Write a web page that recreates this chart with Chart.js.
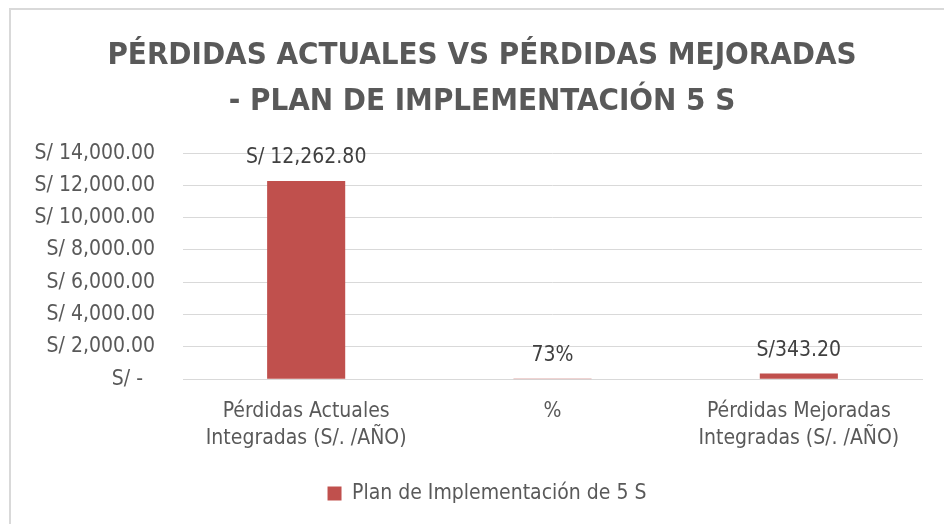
<!DOCTYPE html>
<html>
<head>
<meta charset="utf-8">
<script src="https://cdn.jsdelivr.net/npm/chart.js@4/dist/chart.umd.min.js"></script>
<style>
  html, body { margin: 0; padding: 0; background: #ffffff; }
  #wrap { position: relative; width: 944px; height: 524px; }
</style>
</head>
<body>
<div id="wrap"><canvas id="c" width="944" height="524"></canvas></div>
<script>
const categories = [
  ['Pérdidas Actuales', 'Integradas (S/. /AÑO)'],
  ['%'],
  ['Pérdidas Mejoradas', 'Integradas (S/. /AÑO)']
];
const seriesName = 'Plan de Implementación de 5 S';
const values = [12262.80, 0.73, 343.20];
const dataLabels = ['S/ 12,262.80', '73%', 'S/343.20'];
const titleLines = ['PÉRDIDAS ACTUALES VS PÉRDIDAS MEJORADAS', '- PLAN DE IMPLEMENTACIÓN 5 S'];
const yMin = 0, yMax = 14000, yStep = 2000;

const FONT = "'Liberation Sans Narrow', 'DejaVu Sans Condensed', sans-serif";

const framePlugin = {
  id: 'frame',
  beforeDraw(chart) {
    const ctx = chart.ctx;
    ctx.save();
    ctx.fillStyle = '#ffffff';
    ctx.fillRect(0, 0, chart.width, chart.height);
    ctx.strokeStyle = '#d9d9d9';
    ctx.lineWidth = 2;
    ctx.beginPath();
    ctx.moveTo(10, chart.height + 5);
    ctx.lineTo(10, 9);
    ctx.lineTo(chart.width + 5, 9);
    ctx.stroke();
    ctx.restore();
  }
};

const boxShift = {
  id: 'boxShift',
  afterLayout(chart) {
    if (chart.legend) {
      chart.legend.left += 16;
      chart.legend.right += 16;
    }
    if (chart.titleBlock) {
      chart.titleBlock.left += 11;
      chart.titleBlock.right += 11;
    }
  }
};

const labelPlugin = {
  id: 'barLabels',
  afterDatasetsDraw(chart) {
    const ctx = chart.ctx;
    const meta = chart.getDatasetMeta(0);
    ctx.save();
    ctx.font = '21px ' + FONT;
    ctx.fillStyle = '#404040';
    ctx.textAlign = 'center';
    ctx.textBaseline = 'alphabetic';
    meta.data.forEach((bar, i) => {
      ctx.fillText(dataLabels[i], bar.x, bar.y - 18);
    });
    ctx.restore();
  }
};

new Chart(document.getElementById('c'), {
  type: 'bar',
  data: {
    labels: categories,
    datasets: [{
      label: seriesName,
      data: values,
      backgroundColor: '#c0504d',
      borderWidth: 0,
      barPercentage: 0.317,
      categoryPercentage: 1.0
    }]
  },
  options: {
    responsive: false,
    animation: false,
    devicePixelRatio: 1,
    layout: { padding: { left: 20, right: 22, top: 0, bottom: 10 } },
    plugins: {
      title: {
        display: true,
        text: titleLines,
        color: '#595959',
        font: { family: FONT, size: 31, weight: 'bold', lineHeight: 1.485 },
        padding: { top: 33, bottom: 28 }
      },
      legend: {
        display: true,
        position: 'bottom',
        labels: {
          color: '#595959',
          font: { family: FONT, size: 21 },
          boxWidth: 14,
          boxHeight: 14,
          padding: 12
        }
      },
      tooltip: { enabled: false }
    },
    scales: {
      x: {
        grid: { display: false, drawTicks: false },
        border: { display: true, color: '#d9d9d9', width: 1 },
        ticks: {
          color: '#595959',
          font: { family: FONT, size: 21, lineHeight: 1.33 },
          padding: 18,
          maxRotation: 0,
          autoSkip: false
        }
      },
      y: {
        min: yMin,
        max: yMax,
        grid: { color: '#d9d9d9', lineWidth: 1, drawTicks: false },
        border: { display: false },
        ticks: {
          stepSize: yStep,
          color: '#595959',
          font: { family: FONT, size: 21 },
          padding: 28,
          callback: (v) => v === 0 ? 'S/ -  ' :
            'S/ ' + Number(v).toLocaleString('en-US', { minimumFractionDigits: 2, maximumFractionDigits: 2 })
        },
        afterFit(scale) { scale.width = 163; }
      }
    }
  },
  plugins: [framePlugin, boxShift, labelPlugin]
});
</script>
</body>
</html>
